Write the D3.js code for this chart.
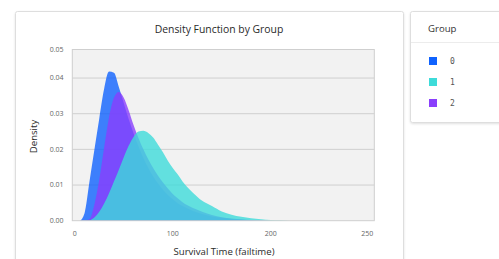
<!DOCTYPE html>
<html>
<head>
<meta charset="utf-8">
<script src="https://cdn.jsdelivr.net/npm/d3@7"></script>
<style>
  html, body { margin: 0; padding: 0; background: #ffffff; }
  svg { display: block; font-family: "Open Sans", "Noto Sans", sans-serif; }
</style>
</head>
<body>
<svg id="chart" width="499" height="259"></svg>
<script>
// survival time grid (failtime)
var times = [0, 5, 10, 15, 20, 25, 30, 35, 40, 45, 50, 55, 60, 65, 70, 75, 80, 85, 90, 95,
             100, 105, 110, 115, 120, 130, 140, 150, 160, 170, 180, 190, 200, 210, 220, 230, 250];

// density per group
var group0 = [0, 0, 0.0021, 0.0109, 0.0198, 0.0286, 0.0370, 0.0418, 0.0415, 0.0375, 0.0330, 0.0285,
              0.0245, 0.0208, 0.0176, 0.0148, 0.0124, 0.0104, 0.0087, 0.0072, 0.0060, 0.0049, 0.0041,
              0.0034, 0.0028, 0.0019, 0.0012, 0.0008, 0.0005, 0.0003, 0.0002, 0.0001, 0, 0, 0, 0, 0];
var group1 = [0, 0, 0, 0.0001, 0.0009, 0.0025, 0.0048, 0.0077, 0.0110, 0.0143, 0.0178, 0.0210,
              0.0235, 0.0250, 0.0252, 0.0246, 0.0233, 0.0213, 0.0192, 0.0168, 0.0148, 0.0130, 0.0110,
              0.0094, 0.0080, 0.0056, 0.0041, 0.0026, 0.0017, 0.0011, 0.0007, 0.0004, 0.0002, 0.0001, 0, 0, 0];
var group2 = [0, 0, 0, 0.0004, 0.0045, 0.0115, 0.0205, 0.0290, 0.0345, 0.0361, 0.0345, 0.0310,
              0.0268, 0.0232, 0.0200, 0.0172, 0.0148, 0.0126, 0.0107, 0.0090, 0.0075, 0.0063, 0.0052,
              0.0043, 0.0036, 0.0025, 0.0016, 0.0010, 0.0006, 0.0004, 0.0002, 0.0001, 0, 0, 0, 0, 0];

var groupNames = ['0', '1', '2'];
var groupColors = ['#0f62fe', '#3ddbd9', '#8a3ffc'];

var yTicks = [0, 0.01, 0.02, 0.03, 0.04];
var yTopLabel = '0.05';
var xTicks = [0, 100, 200];
var xEndLabel = '250';

var svg = d3.select('#chart');

var defs = svg.append('defs');
var shadow = defs.append('filter').attr('id', 'shadow')
  .attr('x', '-10%').attr('y', '-10%').attr('width', '120%').attr('height', '130%');
shadow.append('feDropShadow')
  .attr('dx', 0).attr('dy', 1).attr('stdDeviation', 1.2)
  .attr('flood-color', '#000').attr('flood-opacity', 0.12);

// cards
svg.append('rect')
  .attr('x', 15.5).attr('y', 11.5).attr('width', 388).attr('height', 270)
  .attr('rx', 2).attr('fill', '#fff').attr('stroke', '#dedede')
  .attr('filter', 'url(#shadow)');

svg.append('rect')
  .attr('x', 410.5).attr('y', 11.5).attr('width', 110).attr('height', 111)
  .attr('rx', 2).attr('fill', '#fff').attr('stroke', '#dedede')
  .attr('filter', 'url(#shadow)');

// plot area
var plotLeft = 72.3, plotRight = 374.3, plotTop = 49.5, plotBottom = 220.7;

var x = d3.scaleLinear().domain([-2.5, 305.7]).range([plotLeft, plotRight]);
var y = d3.scaleLinear().domain([0, 0.048]).range([plotBottom, plotTop]);

svg.append('rect')
  .attr('x', plotLeft).attr('y', plotTop)
  .attr('width', plotRight - plotLeft).attr('height', plotBottom - plotTop)
  .attr('fill', '#f2f2f2');

svg.append('g')
  .selectAll('line')
  .data(yTicks.slice(1))
  .enter()
  .append('line')
  .attr('x1', plotLeft).attr('x2', plotRight)
  .attr('y1', d => y(d)).attr('y2', d => y(d))
  .attr('stroke', '#cfcfcf').attr('stroke-width', 1);

var series = [
  {name : groupNames[0], values : group0, color : groupColors[0]},
  {name : groupNames[2], values : group2, color : groupColors[2]},
  {name : groupNames[1], values : group1, color : groupColors[1]}
];

var area = d3.area()
  .x((d, i) => x(times[i]))
  .y0(y(0))
  .y1(d => y(d))
  .curve(d3.curveMonotoneX);

svg.append('g')
  .selectAll('path')
  .data(series)
  .enter()
  .append('path')
  .attr('d', d => area(d.values))
  .attr('fill', d => d.color)
  .attr('fill-opacity', 0.8);

// plot frame
svg.append('rect')
  .attr('x', plotLeft).attr('y', plotTop)
  .attr('width', plotRight - plotLeft).attr('height', plotBottom - plotTop)
  .attr('fill', 'none').attr('stroke', '#cfcfcf');

// axes labels
var yLabels = svg.append('g')
  .attr('font-size', 7).attr('fill', '#666').attr('text-anchor', 'end');
yLabels.selectAll('text')
  .data(yTicks)
  .enter()
  .append('text')
  .attr('x', 63.5).attr('y', d => y(d)).attr('dy', '0.35em')
  .text(d => d3.format('.2f')(d));
yLabels.append('text')
  .attr('x', 63.5).attr('y', y.range()[1]).attr('dy', '0.35em')
  .text(yTopLabel);

var xLabels = svg.append('g')
  .attr('font-size', 7).attr('fill', '#666').attr('text-anchor', 'middle');
xLabels.selectAll('text')
  .data(xTicks)
  .enter()
  .append('text')
  .attr('x', d => x(d)).attr('y', 233.5).attr('dy', '0.35em')
  .text(d => d);
xLabels.append('text')
  .attr('x', x.range()[1] - 7).attr('y', 233.5).attr('dy', '0.35em')
  .text(xEndLabel);

svg.append('text')
  .attr('x', 219).attr('y', 29).attr('dy', '0.35em')
  .attr('text-anchor', 'middle').attr('font-size', 10.4).attr('fill', '#2a2a2a')
  .text('Density Function by Group');

svg.append('text')
  .attr('x', 224).attr('y', 251.5).attr('dy', '0.35em')
  .attr('text-anchor', 'middle').attr('font-size', 9.6).attr('fill', '#2a2a2a')
  .text('Survival Time (failtime)');

svg.append('text')
  .attr('transform', 'translate(34,136.5) rotate(-90)')
  .attr('dy', '0.35em')
  .attr('text-anchor', 'middle').attr('font-size', 9.6).attr('fill', '#2a2a2a')
  .text('Density');

// legend
svg.append('text')
  .attr('x', 428).attr('y', 29).attr('dy', '0.35em')
  .attr('font-size', 9.6).attr('fill', '#333')
  .text('Group');

svg.append('line')
  .attr('x1', 411).attr('x2', 499).attr('y1', 42.5).attr('y2', 42.5)
  .attr('stroke', '#ececec');

var legendRows = [groupNames[0], groupNames[1], groupNames[2]];
var legendY = d3.scalePoint().domain(legendRows).range([61, 103]);

var item = svg.append('g')
  .selectAll('g')
  .data(legendRows)
  .enter()
  .append('g')
  .attr('transform', d => 'translate(429,' + legendY(d) + ')');

item.append('rect')
  .attr('x', 0).attr('y', -4).attr('width', 8).attr('height', 8)
  .attr('fill', d => groupColors[groupNames.indexOf(d)]);

item.append('text')
  .attr('x', 21).attr('dy', '0.35em')
  .attr('font-family', '"DejaVu Sans Mono", monospace')
  .attr('font-size', 8).attr('fill', '#555')
  .text(d => d);
</script>
</body>
</html>
